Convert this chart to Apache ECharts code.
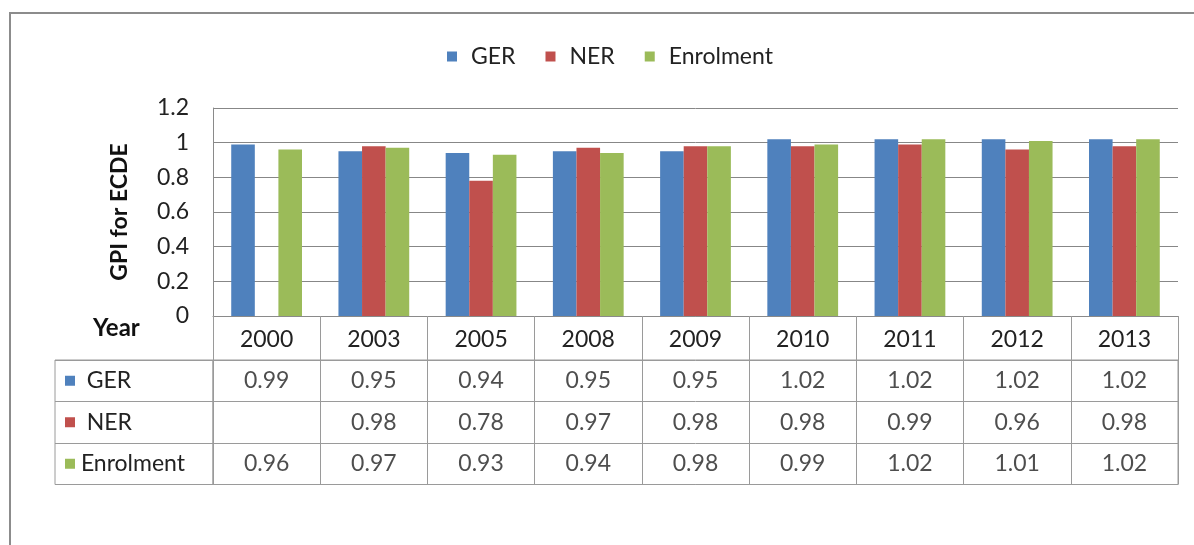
<!DOCTYPE html>
<html>
<head>
<meta charset="utf-8">
<script src="https://cdn.jsdelivr.net/npm/echarts@6/dist/echarts.min.js"></script>
<style>html,body{margin:0;padding:0;background:#fff}#c{width:1194px;height:545px}</style>
</head>
<body>
<div id="c"></div>
<script>
const years = ['2000','2003','2005','2008','2009','2010','2011','2012','2013'];
const seriesNames = ['GER','NER','Enrolment'];
const ger = [0.99,0.95,0.94,0.95,0.95,1.02,1.02,1.02,1.02];
const ner = [null,0.98,0.78,0.97,0.98,0.98,0.99,0.96,0.98];
const enrolment = [0.96,0.97,0.93,0.94,0.98,0.99,1.02,1.01,1.02];
const yTicks = {min:0, max:1.2, interval:0.2};
const colors = ['#4F81BD','#C0504D','#9BBB59'];

const FONT = 'Lato, "Open Sans", sans-serif';
const values = [ger, ner, enrolment];
const LEFT = 213, RIGHT = 16, TOP = 108, PLOT_H = 208, TBL_TOP = 360, ROW_H = 41.5;

const chart = echarts.init(document.getElementById('c'), null, {renderer:'canvas'});

const tableData = [];
values.forEach((arr, r) => arr.forEach((v, i) => { if (v != null) tableData.push([i, seriesNames[r], v]); }));

const rich = {};
seriesNames.forEach((n, i) => { rich['sq' + i] = {width:10, height:10, backgroundColor: colors[i]}; });

const option = {
  backgroundColor: '#fff',
  textStyle: {fontFamily: FONT},
  legend: {
    data: seriesNames, left: 442, top: 40, icon: 'rect', itemWidth: 10, itemHeight: 10,
    itemGap: 30, textStyle: {fontSize: 23, color: '#222', fontFamily: FONT, padding: [0, 0, 0, 9]}
  },
  grid: [
    {left: LEFT, right: RIGHT, top: TOP, height: PLOT_H},
    {left: LEFT, right: RIGHT, top: TBL_TOP, height: ROW_H * 3, show: true, borderColor: '#9a9a9a', borderWidth: 1},
    {left: 55, width: LEFT - 55, top: TBL_TOP, height: ROW_H * 3, show: true, borderColor: '#9a9a9a', borderWidth: 1}
  ],
  xAxis: [
    {gridIndex: 0, type: 'category', data: years,
      axisLine: {show: true, lineStyle: {color: '#8a8a8a', width: 1}},
      axisTick: {show: true, length: 44, alignWithLabel: false, interval: 0, lineStyle: {color: '#9a9a9a'}},
      axisLabel: {margin: 12, fontSize: 23, color: '#222', fontFamily: FONT, interval: 0},
      splitLine: {show: false}},
    {gridIndex: 1, type: 'category', data: years,
      axisLine: {show: false}, axisTick: {show: false}, axisLabel: {show: false},
      splitLine: {show: true, interval: 0, lineStyle: {color: '#9a9a9a'}}},
    {gridIndex: 2, type: 'value', show: false}
  ],
  yAxis: [
    {gridIndex: 0, type: 'value', min: yTicks.min, max: yTicks.max, interval: yTicks.interval,
      name: 'GPI for ECDE', nameLocation: 'middle', nameGap: 82,
      nameTextStyle: {fontSize: 23, fontWeight: 'bold', color: '#111', fontFamily: FONT},
      axisLine: {show: true, lineStyle: {color: '#8a8a8a'}},
      axisTick: {show: false},
      axisLabel: {margin: 24, fontSize: 23, color: '#222', fontFamily: FONT},
      splitLine: {show: true, lineStyle: {color: '#878787', width: 1}}},
    {gridIndex: 1, type: 'category', data: seriesNames, inverse: true,
      axisLine: {show: false}, axisTick: {show: false}, axisLabel: {show: false},
      splitLine: {show: true, interval: 0, lineStyle: {color: '#9a9a9a'}}},
    {gridIndex: 2, type: 'category', data: seriesNames, inverse: true,
      axisLine: {show: false}, axisTick: {show: false},
      axisLabel: {show: true, inside: true, margin: 10, fontSize: 23, color: '#222', fontFamily: FONT,
        formatter: (v, i) => '{sq' + i + '|} ' + (i === 2 ? '' : ' ') + v, rich: rich},
      splitLine: {show: true, interval: 0, lineStyle: {color: '#9a9a9a'}}}
  ],
  graphic: [
    {type: 'rect', silent: true, z: -1, shape: {x: 10, y: 13, width: 1400, height: 800},
      style: {fill: 'none', stroke: '#8c8c8c', lineWidth: 2}},
    {type: 'text', left: 93, top: 316, silent: true,
      style: {text: 'Year', fontSize: 24, fontWeight: 'bold', fill: '#111', fontFamily: FONT}}
  ],
  series: [
    ...seriesNames.map((n, i) => ({
      name: n, type: 'bar', xAxisIndex: 0, yAxisIndex: 0, data: values[i],
      barGap: '0%', barCategoryGap: '34%', itemStyle: {color: colors[i]}, silent: true
    })),
    {name: 'table', type: 'scatter', xAxisIndex: 1, yAxisIndex: 1, data: tableData,
      symbolSize: 1, itemStyle: {color: 'rgba(0,0,0,0)'}, silent: true,
      label: {show: true, position: 'inside', fontSize: 23, color: '#222', fontFamily: FONT,
        formatter: p => p.value[2].toFixed(2)}}
  ]
};
chart.setOption(option);
</script>
</body>
</html>
